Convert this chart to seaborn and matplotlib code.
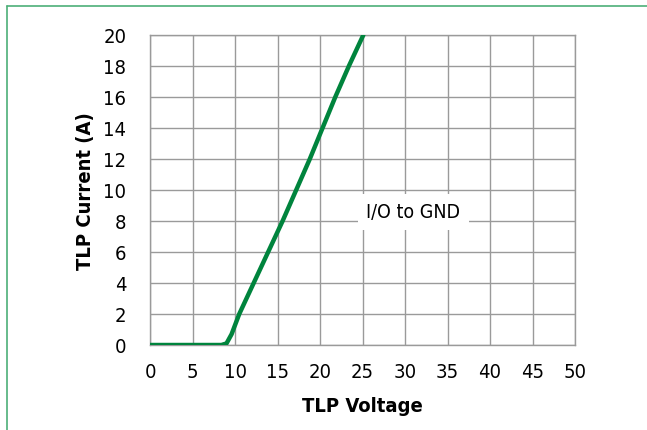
import numpy as np
import pandas as pd
import matplotlib
matplotlib.use("Agg")
import matplotlib.pyplot as plt
import seaborn as sns
from matplotlib.lines import Line2D

# TLP curve, I/O to GND
voltage = [0.0, 4.0, 8.4, 9.0, 9.6, 10.5, 12.2, 13.9, 15.6, 17.2, 18.8, 20.3, 21.8, 23.4, 25.1]
current = [0.0, 0.0, 0.0, 0.1, 0.7, 2.0, 4.0, 6.0, 8.0, 10.0, 12.0, 14.0, 16.0, 18.0, 20.0]
x_ticks = list(range(0, 55, 5))
y_ticks = list(range(0, 22, 2))

df = pd.DataFrame({"TLP Voltage": voltage, "TLP Current (A)": current})

sns.set_style("white")
plt.rcParams['font.family'] = ['DejaVu Sans']
plt.rcParams['font.stretch'] = 'condensed'
plt.rcParams['text.color'] = 'black'
plt.rcParams['axes.labelcolor'] = 'black'
plt.rcParams['xtick.color'] = 'black'
plt.rcParams['ytick.color'] = 'black'

fig = plt.figure(figsize=(6.47, 4.31), dpi=100)
ax = fig.add_axes([150 / 647, 1 - 346 / 431, 425 / 647, 310 / 431])

grid_c = "#9a9a9a"
sns.lineplot(data=df, x="TLP Voltage", y="TLP Current (A)", ax=ax,
             color="#00843d", linewidth=3.2, solid_capstyle="round", zorder=3)

ax.set_xlim(0, 50)
ax.set_ylim(0, 20)
ax.set_xticks(x_ticks)
ax.set_yticks(y_ticks)
ax.grid(True, color=grid_c, linewidth=1.0)
for s in ax.spines.values():
    s.set_color(grid_c)
    s.set_linewidth(1.0)
ax.tick_params(axis="both", length=3, color=grid_c, labelcolor="black", labelsize=14.5, pad=9)
ax.tick_params(axis="y", pad=14)

ax.set_xlabel("TLP Voltage", fontsize=14.5, fontweight="bold", labelpad=11)
ax.set_ylabel("TLP Current (A)", fontsize=14.5, fontweight="bold", labelpad=6)

ax.text(31, 8.6, "I/O to GND", fontsize=14, ha="center", va="center",
        bbox=dict(facecolor="white", edgecolor="none", pad=6), zorder=4)

# green frame on left and top of the figure
fig.add_artist(Line2D([7 / 647, 7 / 647], [0, 1 - 7 / 431], color="#4daf78", linewidth=1.2))
fig.add_artist(Line2D([7 / 647, 1], [1 - 7 / 431, 1 - 7 / 431], color="#4daf78", linewidth=1.2))

fig.savefig("out.png", dpi=100)
